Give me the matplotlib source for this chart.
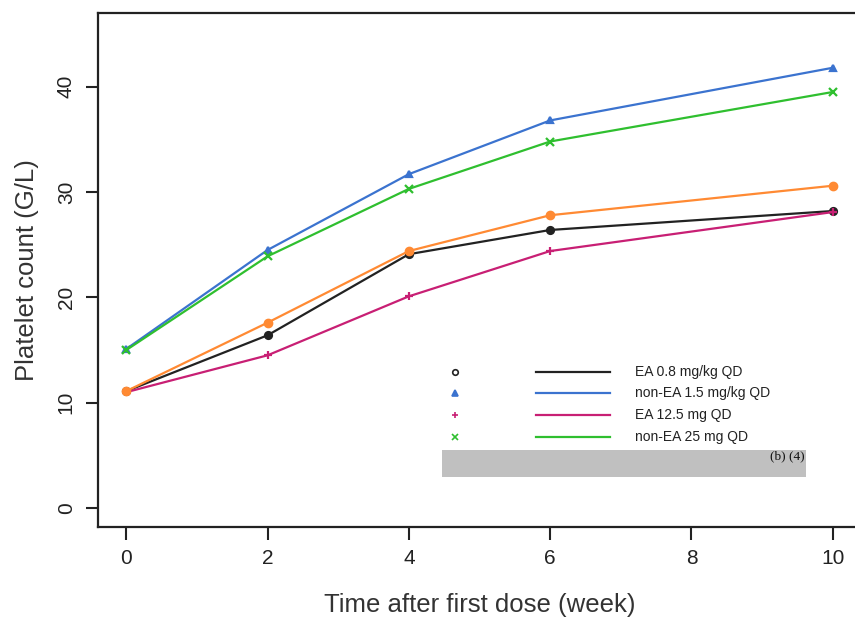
import matplotlib
matplotlib.use("Agg")
import matplotlib.pyplot as plt
from matplotlib.patches import Rectangle

plt.rcParams["font.family"] = ["Liberation Sans", "DejaVu Sans"]

weeks = [0, 2, 4, 6, 10]
ea_08 = [11.1, 16.4, 24.1, 26.4, 28.2]
nonea_15 = [15.1, 24.5, 31.7, 36.8, 41.8]
ea_125 = [11.0, 14.5, 20.1, 24.4, 28.1]
nonea_25 = [15.0, 23.9, 30.3, 34.8, 39.5]
orange_series = [11.1, 17.6, 24.4, 27.8, 30.6]

labels = ["EA 0.8 mg/kg QD", "non-EA 1.5 mg/kg QD", "EA 12.5 mg QD", "non-EA 25 mg QD"]
colors = ["#222222", "#3b73cf", "#c81f74", "#2fbf2f"]
markers = ["o", "^", "+", "x"]
xticks = [0, 2, 4, 6, 8, 10]
yticks = [0, 10, 20, 30, 40]

fig = plt.figure(figsize=(8.55, 6.17), dpi=100)
# axes box runs past the right edge of the image, like the cropped original
ax = fig.add_axes([98 / 855, 1 - 527 / 617, (861 - 98) / 855, (527 - 13) / 617])

series = [ea_08, nonea_15, ea_125, nonea_25]
for vals, c, m in zip(series, colors, markers):
    ms = 6 if m in "+x" else 5
    ax.plot(weeks, vals, color=c, lw=1.6, marker=m, ms=ms, mew=1.6)
ax.plot(weeks, orange_series, color="#ff8a33", lw=1.6, marker="o", ms=6)

ax.set_xlim(-0.4, 10.4)
ax.set_ylim(-1.8, 47.0)
ax.set_xticks(xticks)
ax.set_yticks(yticks)
ax.tick_params(direction="out", length=9, width=1.5, labelsize=15,
               colors="#222222", pad=7)
for lab in ax.get_yticklabels():
    lab.set_rotation(90)
    lab.set_va("center")
for sp in ax.spines.values():
    sp.set_linewidth(1.6)
    sp.set_color("#222222")

ax.set_xlabel("Time after first dose (week)", fontsize=18.5, color="#333333", labelpad=18)
ax.set_ylabel("Platelet count (G/L)", fontsize=18.5, color="#333333", labelpad=13)

# legend drawn R-style: symbol column, line column, text column
rows_y = [12.9, 10.9, 8.8, 6.7]
for y, lab, c, m in zip(rows_y, labels, colors, markers):
    ax.plot([4.65], [y], marker=m, color=c, ms=4, mew=1.2, ls="none",
            fillstyle="none" if m == "o" else "full")
    ax.plot([5.8, 6.85], [y, y], color=c, lw=1.6)
    ax.text(7.2, y, lab, fontsize=10, va="center", ha="left", color="#222222")

ax.add_patch(Rectangle((4.47, 2.95), 5.15, 2.6, facecolor="#c0c0c0",
                       edgecolor="none", zorder=5))
ax.text(9.6, 4.9, "(b) (4)", family=["Liberation Serif", "DejaVu Serif"],
        fontsize=9.5, ha="right", va="center", color="#111111", zorder=6)

fig.savefig("out.png", dpi=100)
